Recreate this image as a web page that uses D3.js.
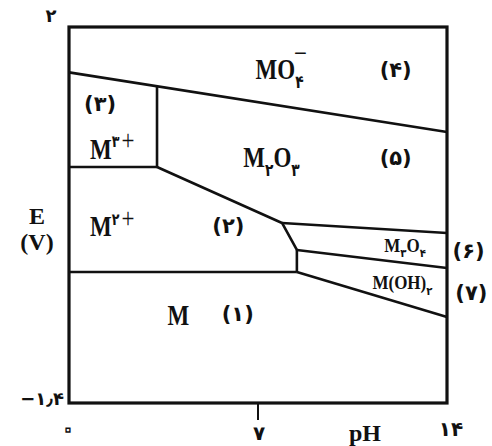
<!DOCTYPE html>
<html>
<head>
<meta charset="utf-8">
<script src="https://cdn.jsdelivr.net/npm/d3@7"></script>
<style>
  body { margin: 0; background: #fff; }
  svg { display: block; }
  text { font-family: "Liberation Serif", "DejaVu Serif", serif; font-weight: bold; fill: #111; }
</style>
</head>
<body>
<svg width="492" height="446"></svg>
<script>
// boundaries of the diagram, each as [pH, E] points
const lineMO4 = [[0, 1.59], [14, 1.05]];
const lineM3Vertical = [[3.26, 1.46], [3.26, 0.734]];
const lineM3M2 = [[0, 0.734], [3.26, 0.734]];
const lineM2M2O3 = [[3.26, 0.734], [7.89, 0.228], [8.44, -0.016]];
const lineM3O4Vertical = [[8.44, -0.016], [8.44, -0.215]];
const lineM2M = [[0, -0.215], [8.44, -0.215]];
const lineM2O3M3O4 = [[7.89, 0.228], [14, 0.137]];
const lineM3O4MOH = [[8.44, -0.016], [14, -0.179]];
const lineMOHM = [[8.44, -0.215], [14, -0.622]];
const boundaries = [lineMO4, lineM3Vertical, lineM3M2, lineM2M2O3, lineM3O4Vertical,
  lineM2M, lineM2O3M3O4, lineM3O4MOH, lineMOHM];

// species labels, text split in parts: normal, sub, sup
const speciesLabels = [
  { pH: 7.8, E: 1.62, parts: [['MO', ''], ['۴', 'sub']], big: true, minus: true },
  { pH: 1.6, E: 0.9, parts: [['M', ''], ['۳', 'sup'], ['+', 'plus']], big: true },
  { pH: 7.5, E: 0.83, parts: [['M', ''], ['۲', 'sub'], ['O', ''], ['۳', 'sub']], big: true },
  { pH: 1.6, E: 0.2, parts: [['M', ''], ['۲', 'sup'], ['+', 'plus']], big: true },
  { pH: 12.45, E: 0.03, parts: [['M', ''], ['۳', 'sub'], ['O', ''], ['۴', 'sub']], big: false },
  { pH: 12.35, E: -0.31, parts: [['M(OH)', ''], ['۲', 'sub']], big: false },
  { pH: 4.05, E: -0.6, parts: [['M', '']], big: true }
];
const regionNumbers = ['(۱)', '(۲)', '(۳)', '(۴)', '(۵)', '(۶)', '(۷)'];
const regionPH = [6.25, 5.9, 1.15, 12.1, 12.1, 14.8, 14.9];
const regionE = [-0.59, 0.2, 1.31, 1.61, 0.82, -0.02, -0.4];

const xTicks = [0, 7, 14];
const xTickLabels = ['۰', '۷', '۱۴'];
const yTicks = [2, -1.4];
const yTickLabels = ['۲', '−۱٫۴'];

const svg = d3.select('svg');
const margin = { top: 27, right: 45, bottom: 43, left: 69 };
const width = +svg.attr('width');
const height = +svg.attr('height');

const x = d3.scaleLinear().domain([0, 14]).range([margin.left, width - margin.right]);
const y = d3.scaleLinear().domain([-1.4, 2]).range([height - margin.bottom, margin.top]);

const line = d3.line().x(d => x(d[0])).y(d => y(d[1]));

// inner boundaries
svg.append('g')
  .selectAll('path')
  .data(boundaries)
  .enter().append('path')
    .attr('d', line)
    .attr('fill', 'none')
    .attr('stroke', '#111')
    .attr('stroke-width', 2.6)
    .attr('stroke-linejoin', 'round');

// frame
svg.append('rect')
  .attr('x', x(0))
  .attr('y', y(2))
  .attr('width', x(14) - x(0))
  .attr('height', y(-1.4) - y(2))
  .attr('fill', 'none')
  .attr('stroke', '#111')
  .attr('stroke-width', 3.2);

// tick at pH 7
svg.append('line')
  .attr('x1', x(7)).attr('x2', x(7))
  .attr('y1', y(-1.4)).attr('y2', y(-1.4) + 17)
  .attr('stroke', '#111')
  .attr('stroke-width', 2);

// x tick labels
svg.append('g')
  .selectAll('text')
  .data(xTicks)
  .enter().append('text')
    .attr('x', (d, i) => x(d) + (i === 2 ? 4 : (i === 1 ? 1 : -1)))
    .attr('y', (d, i) => i === 2 ? 436 : (i === 0 ? 436 : 440))
    .attr('text-anchor', 'middle')
    .style('font-family', 'DejaVu Sans, sans-serif')
    .style('font-size', (d, i) => i === 0 ? '22px' : '20px')
    .style('fill', (d, i) => i === 0 ? '#fff' : '#111')
    .style('stroke', (d, i) => i === 0 ? '#111' : 'none')
    .style('stroke-width', 1.4)
    .text((d, i) => xTickLabels[i]);

svg.append('text')
  .attr('x', 365)
  .attr('y', 441)
  .attr('text-anchor', 'middle')
  .style('font-size', '24px')
  .text('pH');

// y tick labels
svg.append('text')
  .attr('x', 51)
  .attr('y', y(yTicks[0]) - 5)
  .attr('text-anchor', 'middle')
  .style('font-family', 'DejaVu Sans, sans-serif')
  .style('font-size', '18px')
  .text(yTickLabels[0]);

svg.append('text')
  .attr('x', 64)
  .attr('y', y(yTicks[1]) + 2)
  .attr('text-anchor', 'end')
  .style('font-family', 'DejaVu Sans, sans-serif')
  .style('font-size', '18px')
  .text(yTickLabels[1]);

// axis title E (V)
svg.append('text')
  .attr('x', 37).attr('y', 224)
  .attr('text-anchor', 'middle')
  .style('font-size', '24px')
  .text('E');
svg.append('text')
  .attr('x', 37).attr('y', 250)
  .attr('text-anchor', 'middle')
  .style('font-size', '24px')
  .text('(V)');

// region numbers
svg.append('g')
  .selectAll('text')
  .data(regionNumbers)
  .enter().append('text')
    .attr('x', (d, i) => x(regionPH[i]))
    .attr('y', (d, i) => y(regionE[i]))
    .attr('dy', '0.35em')
    .attr('text-anchor', 'middle')
    .style('font-family', 'DejaVu Sans, sans-serif')
    .style('font-size', '21px')
    .text(d => d);

// species labels (the original lettering is taller than it is wide)
const speciesG = svg.append('g')
  .selectAll('g')
  .data(speciesLabels)
  .enter().append('g')
    .attr('transform', d => `translate(${x(d.pH)},${y(d.E)}) scale(1,${d.big ? 1.28 : 1.12})`);

speciesG.each(function(d) {
  const g = d3.select(this);
  const fs = d.big ? 23 : 17;
  const t = g.append('text')
    .attr('dy', '0.35em')
    .attr('text-anchor', 'middle')
    .style('font-size', fs + 'px');
  let shift = 0;
  d.parts.forEach(([txt, kind]) => {
    const ts = t.append('tspan').text(txt);
    let target = 0;
    if (kind === 'sub') {
      target = fs * 0.3;
      ts.style('font-family', 'DejaVu Sans, sans-serif')
        .style('font-size', (fs * 0.6) + 'px');
    } else if (kind === 'sup') {
      target = -fs * 0.4;
      ts.style('font-family', 'DejaVu Sans, sans-serif')
        .style('font-size', (fs * 0.55) + 'px');
    } else if (kind === 'plus') {
      target = -fs * 0.3;
      ts.attr('dx', 2)
        .style('font-weight', 'normal')
        .style('font-size', (fs * 1.0) + 'px');
    }
    if (target !== shift) ts.attr('dy', target - shift);
    shift = target;
  });

  // minus sign stacked above the last subscript
  if (d.minus) {
    const el = t.node();
    const n = el.getNumberOfChars();
    const s = el.getStartPositionOfChar(n - 1);
    const e = el.getEndPositionOfChar(n - 1);
    g.append('text')
      .attr('x', (s.x + e.x) / 2 + 1)
      .attr('y', -fs * 0.22)
      .attr('text-anchor', 'middle')
      .style('font-weight', 'normal')
      .style('font-size', fs + 'px')
      .text('−');
  }
});
</script>
</body>
</html>
